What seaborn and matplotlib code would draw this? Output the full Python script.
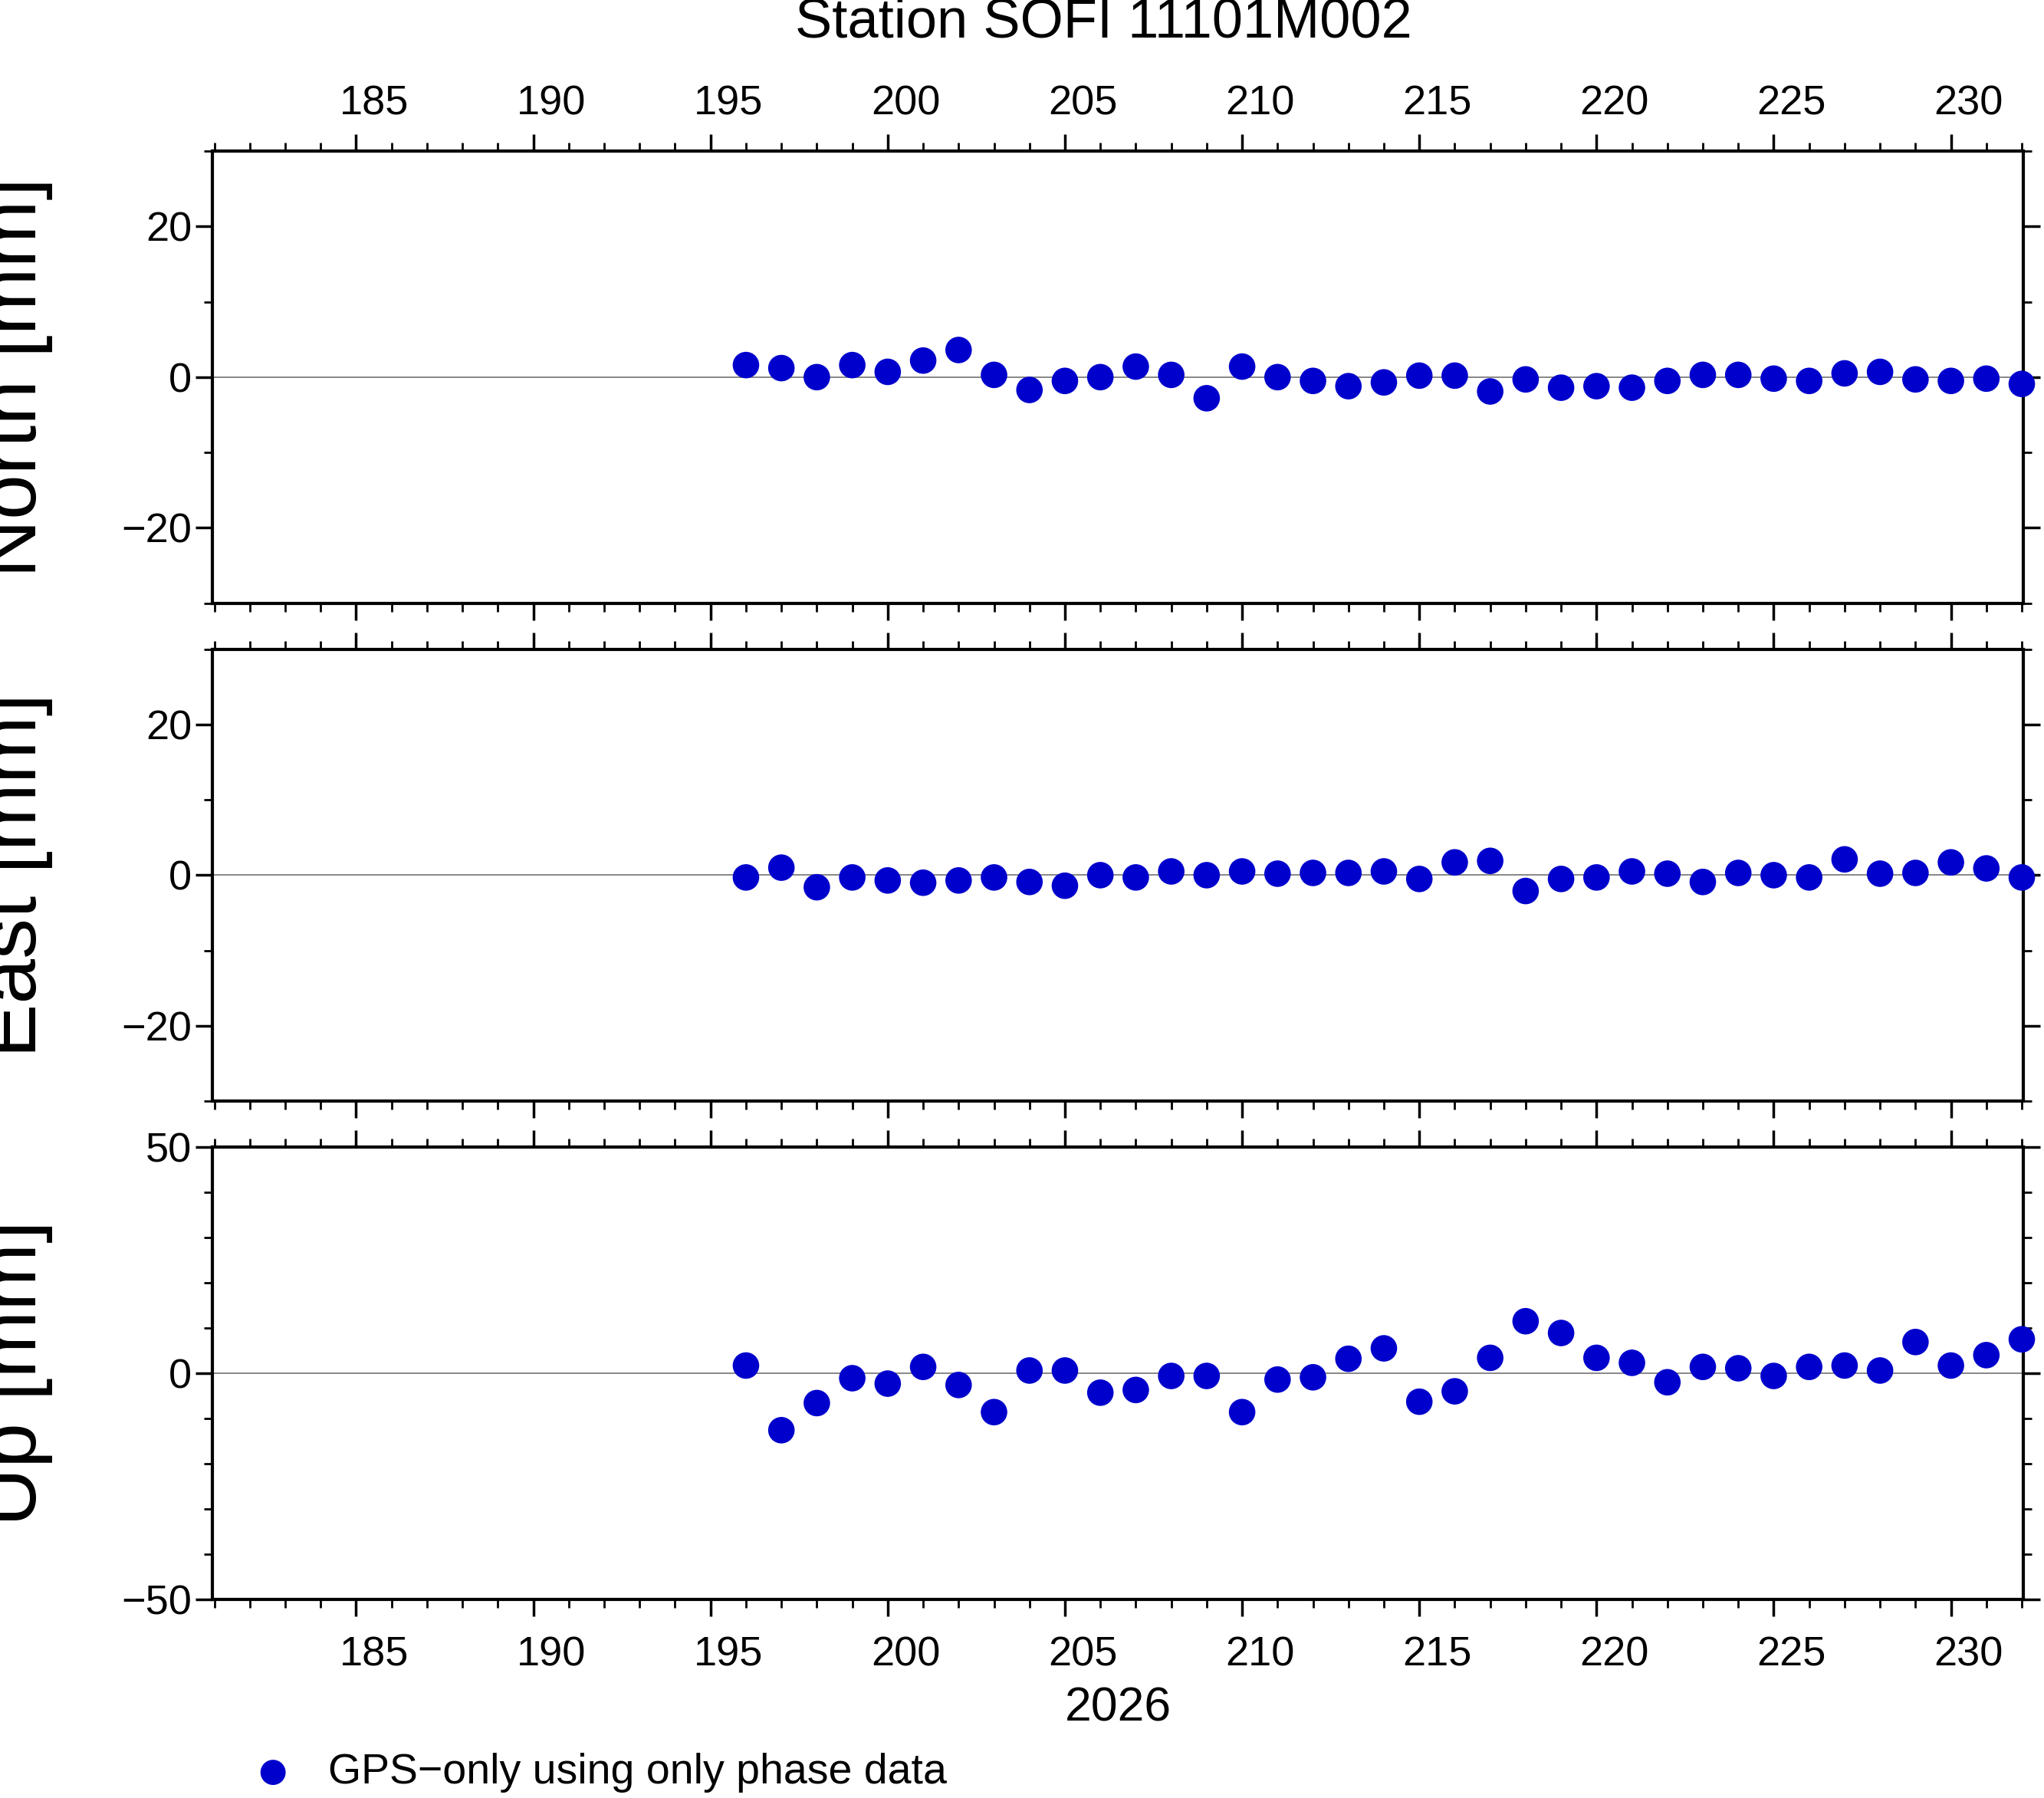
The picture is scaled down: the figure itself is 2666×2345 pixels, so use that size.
import numpy as np
import pandas as pd
import seaborn as sns
import matplotlib.pyplot as plt
from matplotlib.ticker import MultipleLocator, FixedLocator, FixedFormatter, NullFormatter

sns.set_style("white")
plt.rcParams['font.family'] = ['Liberation Sans', 'DejaVu Sans']
plt.rcParams['text.color'] = 'black'
plt.rcParams['axes.labelcolor'] = 'black'
plt.rcParams['xtick.color'] = 'black'
plt.rcParams['ytick.color'] = 'black'

days = list(range(196, 233))
north = [1.6, 1.2, 0.0, 1.6, 0.7, 2.2, 3.6, 0.3, -1.7, -0.5, 0.0, 1.4, 0.3, -2.8, 1.4, 0.0,
         -0.5, -1.2, -0.7, 0.2, 0.2, -1.9, -0.3, -1.4, -1.2, -1.4, -0.5, 0.3, 0.3, -0.2,
         -0.5, 0.5, 0.7, -0.3, -0.5, -0.2, -0.9]
east = [-0.3, 1.0, -1.6, -0.3, -0.7, -1.0, -0.7, -0.3, -0.9, -1.4, 0.0, -0.3, 0.5, 0.0, 0.5, 0.2,
        0.3, 0.3, 0.5, -0.5, 1.7, 1.9, -2.1, -0.5, -0.3, 0.5, 0.2, -0.9, 0.3, 0.0,
        -0.3, 2.1, 0.2, 0.3, 1.7, 0.9, -0.3]
up = [1.7, -12.6, -6.6, -1.1, -2.3, 1.4, -2.6, -8.6, 0.6, 0.6, -4.3, -3.7, -0.6, -0.6, -8.6, -1.4,
      -0.9, 3.2, 5.5, -6.3, -4.0, 3.4, 11.5, 8.9, 3.4, 2.3, -2.0, 1.4, 1.1, -0.6,
      1.4, 1.7, 0.6, 6.9, 1.7, 4.0, 7.5]

panels = [("North [mm]", north, 30, 20), ("East [mm]", east, 30, 20), ("Up [mm]", up, 50, 50)]
tops = [0.916, 0.639, 0.362]
h = 0.2515
color = "#0000CD"
major = list(range(185, 235, 5))

fig = plt.figure(figsize=(26.66, 23.45), dpi=100)
axes = []
for i, (lab, vals, lim, step) in enumerate(panels):
    ax = fig.add_axes([0.104, tops[i] - h, 0.886, h])
    df = pd.DataFrame({"day": days, "val": vals})
    ax.axhline(0, color="0.45", lw=1.2, zorder=1)
    sns.scatterplot(data=df, x="day", y="val", ax=ax, color=color, s=620,
                    edgecolor="none", zorder=3, clip_on=False,
                    label="GPS\u2212only using only phase data" if i == 0 else None)
    ax.set_xlim(180.95, 232.05)
    ax.set_ylim(-lim, lim)
    ax.yaxis.set_major_locator(MultipleLocator(step))
    ax.yaxis.set_minor_locator(MultipleLocator(10))
    ax.set_yticklabels([f"{t:g}".replace("-", "\u2212") for t in ax.get_yticks()])
    ax.xaxis.set_major_locator(FixedLocator(major))
    ax.xaxis.set_minor_locator(MultipleLocator(1))
    ax.xaxis.set_major_formatter(NullFormatter())
    ax.set_ylabel(lab, fontsize=76)
    ax.yaxis.set_label_coords(-0.088, 0.5)
    ax.set_xlabel("")
    for s in ax.spines.values():
        s.set_linewidth(3)
        s.set_color("black")
    ax.tick_params(which="major", direction="out", length=16, width=2.5, labelsize=39,
                   top=True, right=True, bottom=True, left=True)
    ax.tick_params(which="minor", direction="out", length=8, width=2,
                   top=True, right=True, bottom=True, left=True)
    if ax.get_legend():
        ax.get_legend().remove()
    axes.append(ax)

for ax, where in [(axes[0], "top"), (axes[2], "bottom")]:
    sec = ax.secondary_xaxis(where)
    sec.xaxis.set_major_locator(FixedLocator([m + 0.5 for m in major]))
    sec.xaxis.set_major_formatter(FixedFormatter([str(m) for m in major]))
    sec.tick_params(length=0, labelsize=39, pad=34 if where == "bottom" else 26)
    sec.spines[where].set_visible(False)

fig.text(0.54, 0.987, "Station SOFI 11101M002", fontsize=52, ha="center", va="center")
fig.text(0.547, 0.050, "2026", fontsize=45, ha="center", va="center")

handles, labels = axes[0].get_legend_handles_labels()
fig.legend(handles, labels, loc="center left", bbox_to_anchor=(0.094, 0.014),
           frameon=False, fontsize=40, markerscale=0.95, handletextpad=0.3)

fig.savefig("out.png", dpi=100)
